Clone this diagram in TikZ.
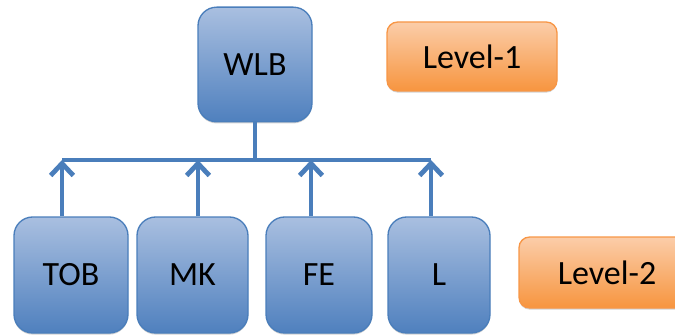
\documentclass[tikz,border=0pt]{standalone}
\usepackage{fontspec}
\setmainfont{Carlito}
\usetikzlibrary{arrows.meta,shadows}
\definecolor{boxline}{HTML}{4A7EBB}
\definecolor{boxtop}{HTML}{A9BFE0}
\definecolor{boxbot}{HTML}{4F80BE}
\definecolor{lvlline}{HTML}{F79646}
\definecolor{lvltop}{HTML}{FBCDA9}
\definecolor{lvlbot}{HTML}{F7953F}

\tikzset{
  topic/.style={draw=boxline, line width=1pt, rounded corners=14pt,
    top color=boxtop, bottom color=boxbot, inner sep=0pt,
    drop shadow={shadow xshift=0pt, shadow yshift=-1.2pt, opacity=0.35},
    font=\fontsize{25.5}{30}\selectfont},
  levelbox/.style={draw=lvlline, line width=1pt, rounded corners=8pt,
    top color=lvltop, bottom color=lvlbot, inner sep=0pt,
    drop shadow={shadow xshift=0pt, shadow yshift=-1.2pt, opacity=0.35},
    font=\fontsize{25.5}{30}\selectfont},
  bus/.style={draw=boxline, line width=3.2pt},
  up/.style={bus, -{Straight Barb[length=9pt,width=17pt,line width=3.6pt]}}
}

\begin{document}
\begin{tikzpicture}[x=0.75pt,y=-0.75pt]
  \useasboundingbox (0,0) rectangle (675,335);
  % level 1
  \node[topic, minimum width=85.5pt, minimum height=86pt] (wlb) at (255,64.5) {WLB};
  \node[levelbox, minimum width=127.5pt, minimum height=51.75pt] (lvl1) at (472,56.5) {Level-1};
  % level 2
  \node[topic, minimum width=85.5pt, minimum height=87pt] (tob) at (71,275) {TOB};
  \node[topic, minimum width=83.25pt, minimum height=87pt] (mk) at (192.5,275) {MK};
  \node[topic, minimum width=79.5pt, minimum height=87pt] (fe) at (319,275) {FE};
  \node[topic, minimum width=76.5pt, minimum height=87pt] (l) at (439,275) {L};
  \node[levelbox, minimum width=132pt, minimum height=53.25pt] (lvl2) at (607,272.5) {Level-2};
  % bus
  \coordinate (b1) at (62,160);
  \coordinate (b2) at (198,160);
  \coordinate (b3) at (311,160);
  \coordinate (b4) at (431,160);
  \draw[bus] (wlb.south) -- (wlb.south |- b1);
  \draw[bus] (b1) -- (b4);
  \draw[up] (b1 |- tob.north) -- (b1);
  \draw[up] (b2 |- mk.north) -- (b2);
  \draw[up] (b3 |- fe.north) -- (b3);
  \draw[up] (b4 |- l.north) -- (b4);
\end{tikzpicture}
\end{document}
